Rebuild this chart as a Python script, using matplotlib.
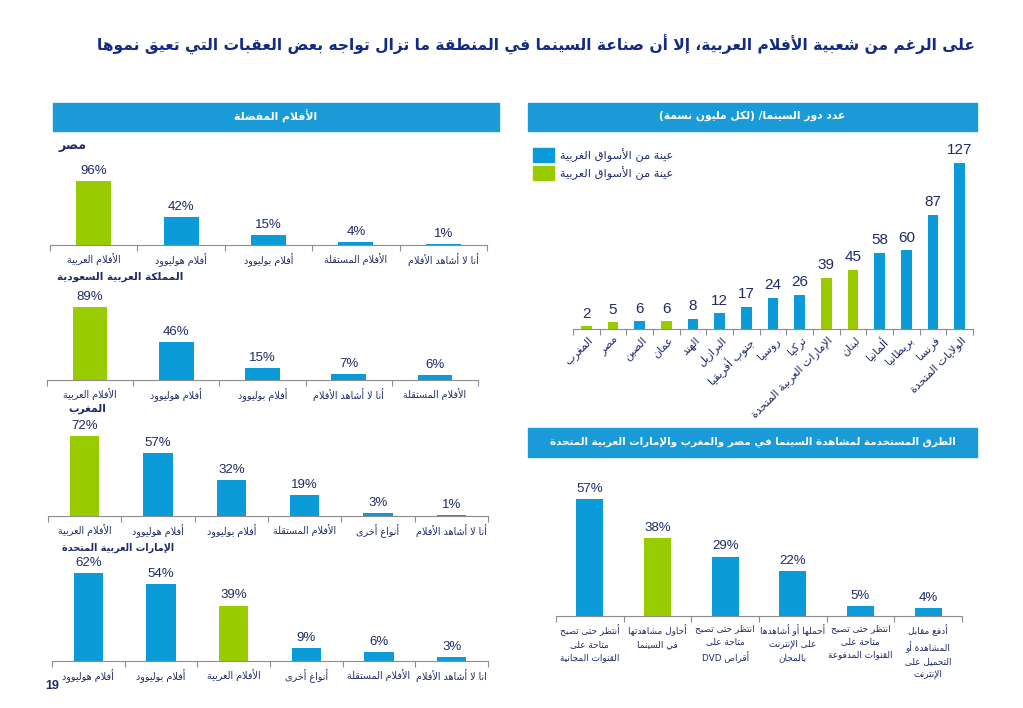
import re
import matplotlib
matplotlib.use('Agg')
import matplotlib.pyplot as plt
from matplotlib import font_manager
from matplotlib.patches import Rectangle
import matplotlib.transforms as mtrans

# ---- data ----
title = 'على الرغم من شعبية الأفلام العربية، إلا أن صناعة السينما في المنطقة ما تزال تواجه بعض العقبات التي تعيق نموها'
left_header = 'الأفلام المفضلة'
arab_films = 'الأفلام العربية'

egy_name = 'مصر'
egy_cats = ['الأفلام العربية', 'أفلام هوليوود', 'أفلام بوليوود', 'الأفلام المستقلة', 'أنا لا أشاهد الأفلام']
egy_vals = [96, 42, 15, 4, 1]

ksa_name = 'المملكة العربية السعودية'
ksa_cats = ['الأفلام العربية', 'أفلام هوليوود', 'أفلام بوليوود', 'أنا لا أشاهد الأفلام', 'الأفلام المستقلة']
ksa_vals = [89, 46, 15, 7, 6]

mor_name = 'المغرب'
mor_cats = ['الأفلام العربية', 'أفلام هوليوود', 'أفلام بوليوود', 'الأفلام المستقلة', 'أنواع أخرى', 'أنا لا أشاهد الأفلام']
mor_vals = [72, 57, 32, 19, 3, 1]

uae_name = 'الإمارات العربية المتحدة'
uae_cats = ['أفلام هوليوود', 'أفلام بوليوود', 'الأفلام العربية', 'أنواع أخرى', 'الأفلام المستقلة', 'انا لا أشاهد الأفلام']
uae_vals = [62, 54, 39, 9, 6, 3]

cin_header = 'عدد دور السينما/ (لكل مليون نسمة)'
cin_cats = ['المغرب', 'مصر', 'الصين', 'عمان', 'الهند', 'البرازيل', 'جنوب أفريقيا', 'روسيا', 'تركيا',
            'الإمارات العربية المتحدة', 'لبنان', 'ألمانيا', 'بريطانيا', 'فرنسا', 'الولايات المتحدة']
cin_vals = [2, 5, 6, 6, 8, 12, 17, 24, 26, 39, 45, 58, 60, 87, 127]
arab_markets = ['المغرب', 'مصر', 'عمان', 'الإمارات العربية المتحدة', 'لبنان']
leg_west = 'عينة من الأسواق الغربية'
leg_arab = 'عينة من الأسواق العربية'

way_header = 'الطرق المستخدمة لمشاهدة السينما في مصر والمغرب والإمارات العربية المتحدة'
way_cats = ['أنتظر حتى تصبح\nمتاحة على\nالقنوات المجانية',
            'أحاول مشاهدتها\nفي السينما',
            'انتظر حتى تصبح\nمتاحة على\nأقراص DVD',
            'أحملها أو أشاهدها\nعلى الإنترنت\nبالمجان',
            'انتظر حتى تصبح\nمتاحة على\nالقنوات المدفوعة',
            'أدفع مقابل\nالمشاهدة أو\nالتحميل على\nالإنترنت']
way_vals = [57, 38, 29, 22, 5, 4]
way_hl = 'أحاول مشاهدتها\nفي السينما'

page_no = '19'

BLUE = '#0b9bd9'
GREEN = '#99cc00'
NAVY = '#1f2a66'
TITLE_C = '#132a86'
HEAD = '#1a9bd7'

# ---- minimal arabic shaping (matplotlib has no text shaping) ----
FOUR = {'ئ': 0xFE89, 'ب': 0xFE8F, 'ت': 0xFE95, 'ث': 0xFE99, 'ج': 0xFE9D, 'ح': 0xFEA1, 'خ': 0xFEA5,
        'س': 0xFEB1, 'ش': 0xFEB5, 'ص': 0xFEB9, 'ض': 0xFEBD, 'ط': 0xFEC1, 'ظ': 0xFEC5, 'ع': 0xFEC9,
        'غ': 0xFECD, 'ف': 0xFED1, 'ق': 0xFED5, 'ك': 0xFED9, 'ل': 0xFEDD, 'م': 0xFEE1, 'ن': 0xFEE5,
        'ه': 0xFEE9, 'ي': 0xFEF1}
TWO = {'آ': 0xFE81, 'أ': 0xFE83, 'ؤ': 0xFE85, 'إ': 0xFE87, 'ا': 0xFE8D, 'ة': 0xFE93, 'د': 0xFEA9,
       'ذ': 0xFEAB, 'ر': 0xFEAD, 'ز': 0xFEAF, 'و': 0xFEED, 'ى': 0xFEEF,
       '\uFEF5': 0xFEF5, '\uFEF7': 0xFEF7, '\uFEF9': 0xFEF9, '\uFEFB': 0xFEFB}
LIGS = [('لآ', '\uFEF5'), ('لأ', '\uFEF7'), ('لإ', '\uFEF9'), ('لا', '\uFEFB')]
MIRROR = {'(': ')', ')': '('}


def ar_line(s):
    for a, b in LIGS:
        s = s.replace(a, b)
    out = []
    for i, c in enumerate(s):
        base = FOUR.get(c, TWO.get(c))
        if base is None:
            out.append(MIRROR.get(c, c))
            continue
        prev = s[i - 1] if i > 0 else ''
        nxt = s[i + 1] if i + 1 < len(s) else ''
        jp = prev in FOUR
        jn = c in FOUR and (nxt in FOUR or nxt in TWO)
        k = 3 if (jp and jn) else 1 if jp else 2 if jn else 0
        out.append(chr(base + k))
    toks = re.findall(r'[A-Za-z0-9%]+|.', ''.join(out))
    return ''.join(toks[::-1])


def ar(s):
    return '\n'.join(ar_line(l) for l in s.split('\n'))


# a narrower face fits the arial-like arabic of the original better
installed = {f.name for f in font_manager.fontManager.ttflist}
if 'DejaVu Sans Condensed' in installed:
    plt.rcParams['font.family'] = ['DejaVu Sans Condensed', 'DejaVu Sans']
    SC = 1.1
else:
    plt.rcParams['font.family'] = ['DejaVu Sans']
    SC = 1.0

W, H = 1023, 708
fig = plt.figure(figsize=(W / 100, H / 100), dpi=100)
rend = fig.canvas.get_renderer()


def fx(x):
    return x / W


def fy(y):
    return 1 - y / H


def fit(t, width):
    # scale a text so that it spans about `width` pixels
    w = t.get_window_extent(rend).width
    t.set_fontsize(t.get_fontsize() * width / w)
    return t


def header(x0, x1, y0, y1, txt, width):
    fig.patches.append(Rectangle((fx(x0), fy(y1)), fx(x1 - x0), (y1 - y0) / H,
                                 transform=fig.transFigure, color=HEAD, zorder=0))
    t = fig.text(fx((x0 + x1) / 2), fy((y0 + y1) / 2 - 1), ar(txt), color='white', fontsize=8,
                 fontweight='bold', ha='center', va='center')
    fit(t, width)


def bar_axes(x0, x1, ytop, ybase, ppu):
    ax = fig.add_axes([fx(x0), fy(ybase), fx(x1 - x0), (ybase - ytop) / H])
    ax.set_ylim(0, (ybase - ytop) / ppu)
    for s in ['top', 'right', 'left']:
        ax.spines[s].set_visible(False)
    ax.spines['bottom'].set_color('#8c8c8c')
    ax.set_yticks([])
    ax.patch.set_visible(False)
    return ax


def cat_bars(ax, cats, vals, colors, fs_val, fs_tick, pct=True, pad=3, lsp=1.2):
    n = len(cats)
    xs = [i + 0.5 for i in range(n)]
    ax.bar(xs, vals, width=0.4, color=colors)
    ax.set_xlim(0, n)
    ax.set_xticks(range(n + 1))
    ax.set_xticklabels([])
    ax.tick_params(axis='x', which='major', length=4, color='#8c8c8c', direction='out')
    for x, v in zip(xs, vals):
        ax.annotate(f'{v}%' if pct else f'{v}', (x, v), xytext=(0, pad), textcoords='offset points',
                    ha='center', va='bottom', fontsize=fs_val, color=NAVY, family='Liberation Sans')
    if fs_tick:
        ax.set_xticks(xs, minor=True)
        ax.set_xticklabels([ar(c) for c in cats], minor=True, fontsize=fs_tick * SC, color=NAVY,
                           linespacing=lsp)
        ax.tick_params(axis='x', which='minor', length=0, pad=6)


def left_chart(name, cats, vals, x0, x1, ytop, ybase, ppu, nx, ny, nw):
    ax = bar_axes(x0, x1, ytop, ybase, ppu)
    cols = [GREEN if c == arab_films else BLUE for c in cats]
    cat_bars(ax, cats, vals, cols, 9.5, 6.9)
    t = fig.text(fx(nx), fy(ny), ar(name), color=NAVY, fontsize=8, fontweight='bold',
                 ha='left', va='center')
    fit(t, nw)


# title
t = fig.text(fx(975), fy(45), ar(title), color=TITLE_C, fontsize=12, fontweight='bold',
             ha='right', va='center')
fit(t, 880)

# left panel
header(53, 499, 103, 131, left_header, 83)
left_chart(egy_name, egy_cats, egy_vals, 50, 487, 160, 245, 0.667, 58, 146, 28)
left_chart(ksa_name, ksa_cats, ksa_vals, 47, 478, 290, 380, 0.82, 57, 277, 126)
left_chart(mor_name, mor_cats, mor_vals, 48, 488, 425, 516, 1.11, 68, 409, 38)
left_chart(uae_name, uae_cats, uae_vals, 52, 488, 560, 661, 1.42, 62, 548, 112)
fig.text(fx(45), fy(686), page_no, color=NAVY, fontsize=9, fontweight='bold',
         ha='left', va='center', family='Liberation Sans')

# cinemas per million
header(528, 977, 103, 131, cin_header, 186)
ax = bar_axes(573, 973, 145, 329, 1.31)
cols = [GREEN if c in arab_markets else BLUE for c in cin_cats]
cat_bars(ax, cin_cats, cin_vals, cols, 11, None, pct=False, pad=4)
off = mtrans.offset_copy(ax.transData, fig=fig, x=1, y=-6, units='dots')
for i, c in enumerate(cin_cats):
    ax.text(i + 0.5, 0, ar(c), transform=off, rotation=45, rotation_mode='anchor',
            ha='right', va='top', fontsize=8 * SC, color=NAVY)
for k, (lab, col) in enumerate([(leg_west, BLUE), (leg_arab, GREEN)]):
    yy = 155 + 18 * k
    fig.patches.append(Rectangle((fx(533), fy(yy + 7)), fx(21), 14 / H,
                                 transform=fig.transFigure, color=col))
    t = fig.text(fx(560), fy(yy), ar(lab), color=NAVY, fontsize=8, ha='left', va='center')
    fit(t, 113)

# ways of watching
header(528, 977, 428, 457, way_header, 407)
ax = bar_axes(556, 962, 475, 616, 2.05)
cols = [GREEN if c == way_hl else BLUE for c in way_cats]
cat_bars(ax, way_cats, way_vals, cols, 9.5, 6.4, lsp=1.55)

fig.savefig('out.png', dpi=100)
